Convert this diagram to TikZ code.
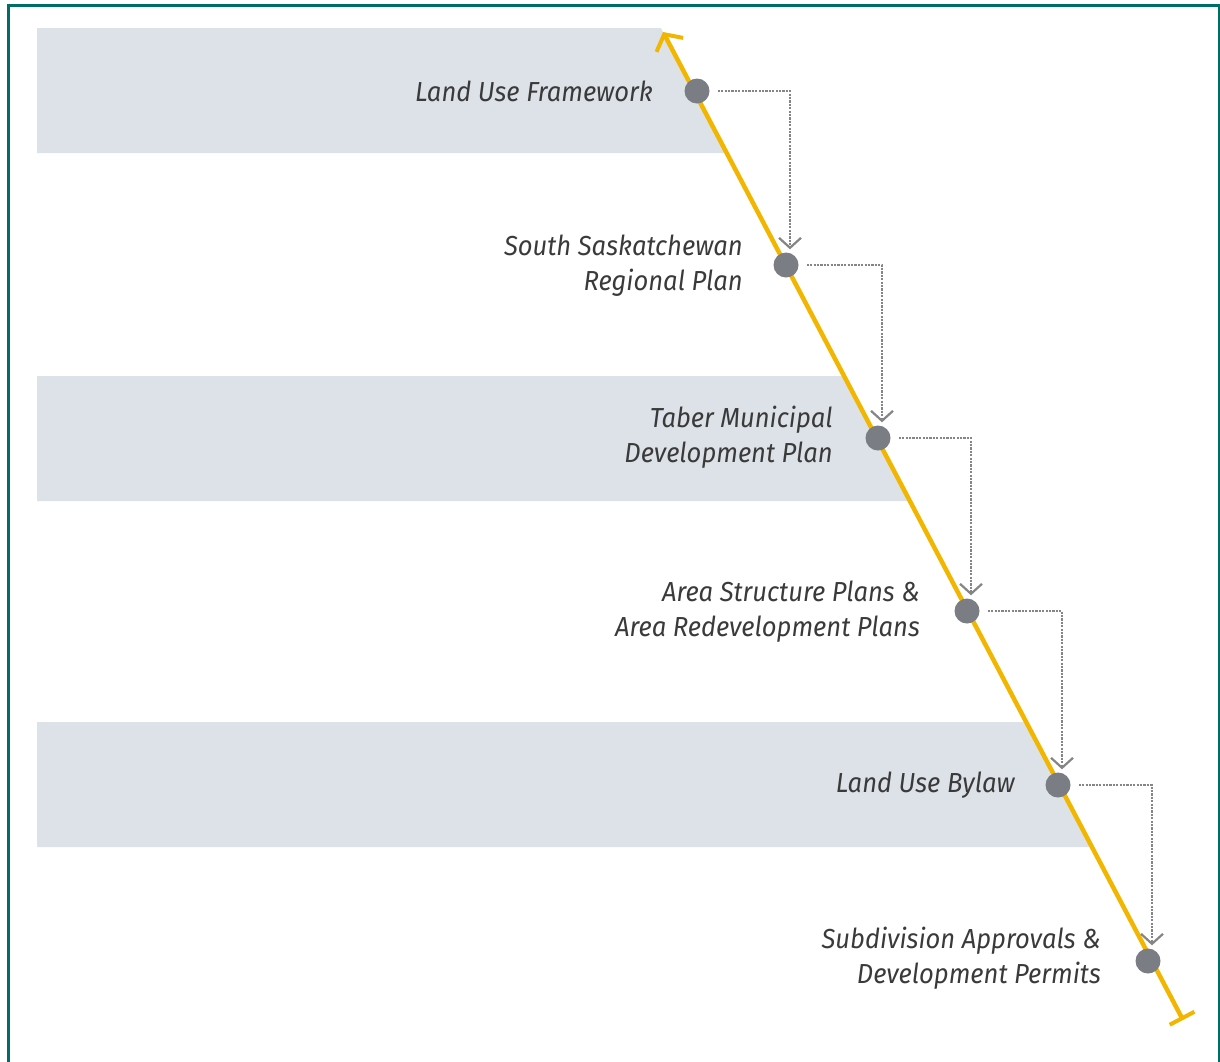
\documentclass[tikz,border=0pt]{standalone}
\usepackage{fontspec}
\newfontfamily\labfont[FakeStretch=0.93]{Fira Sans}
\usetikzlibrary{arrows.meta}
\definecolor{teal}{HTML}{006E64}
\definecolor{band}{HTML}{DCE2E8}
\definecolor{ylw}{HTML}{F2B600}
\definecolor{dotc}{HTML}{7A7D84}
\definecolor{conn}{HTML}{858585}
\definecolor{txt}{HTML}{3A3A3A}
\tikzset{
  dotnode/.style={circle, fill=dotc, inner sep=0pt, minimum size=25pt},
  lab/.style={anchor=east, align=right, font=\labfont\itshape\fontsize{27.5}{35}\selectfont, text=txt, inner sep=0pt},
  connline/.style={draw=conn, line width=2.4pt, dash pattern=on 2.2pt off 1.2pt, -{Straight Barb[length=10pt,width=22pt,line width=2.2pt]}},
  bandfill/.style={fill=band},
}
\begin{document}
\begin{tikzpicture}[x=1pt,y=-1pt]
\useasboundingbox (0,0) rectangle (1220,1061);
\begin{scope}
\clip (0,0) rectangle (1220,1061);
\draw[teal, line width=3pt] (8,1080) -- (8,5) -- (1219,5) -- (1219,1080);
\end{scope}
% bands clipped by the timeline
\fill[bandfill] (37,28) -- (660.9,28) -- (726.7,153) -- (37,153) -- cycle;
\fill[bandfill] (37,376) -- (844,376) -- (909.8,501) -- (37,501) -- cycle;
\fill[bandfill] (37,722) -- (1026,722) -- (1092,847) -- (37,847) -- cycle;
% timeline
\coordinate (top) at (663,32);
\coordinate (bot) at (1183,1020);
\draw[ylw, line width=4.5pt, {Straight Barb[length=12pt,width=30pt,line width=4pt]}-{Bar[width=28pt,line width=4pt]}] (top) -- (bot);
% dots
\node[dotnode] (d1) at (697,91) {};
\node[dotnode] (d2) at (786,265) {};
\node[dotnode] (d3) at (878,438) {};
\node[dotnode] (d4) at (967,611) {};
\node[dotnode] (d5) at (1058,785) {};
\node[dotnode] (d6) at (1148,961) {};
% connectors
\draw[connline] ([xshift=8pt]d1.east) -| ([xshift=4pt,yshift=3pt]d2.north);
\draw[connline] ([xshift=8pt]d2.east) -| ([xshift=4pt,yshift=3pt]d3.north);
\draw[connline] ([xshift=8pt]d3.east) -| ([xshift=4pt,yshift=3pt]d4.north);
\draw[connline] ([xshift=8pt]d4.east) -| ([xshift=4pt,yshift=3pt]d5.north);
\draw[connline] ([xshift=8pt]d5.east) -| ([xshift=4pt,yshift=3pt]d6.north);
% labels
\node[lab] (l1) at (653,91) {Land Use Framework};
\node[lab] (l2) at (743,265.5) {South Saskatchewan\\Regional Plan};
\node[lab] (l3) at (833,437.5) {Taber Municipal\\Development Plan};
\node[lab] (l4) at (920,611.5) {Area Structure Plans \&\\Area Redevelopment Plans};
\node[lab] (l5) at (1015,785) {Land Use Bylaw};
\node[lab] (l6) at (1101,958.5) {Subdivision Approvals \&\\Development Permits};
\end{tikzpicture}
\end{document}
